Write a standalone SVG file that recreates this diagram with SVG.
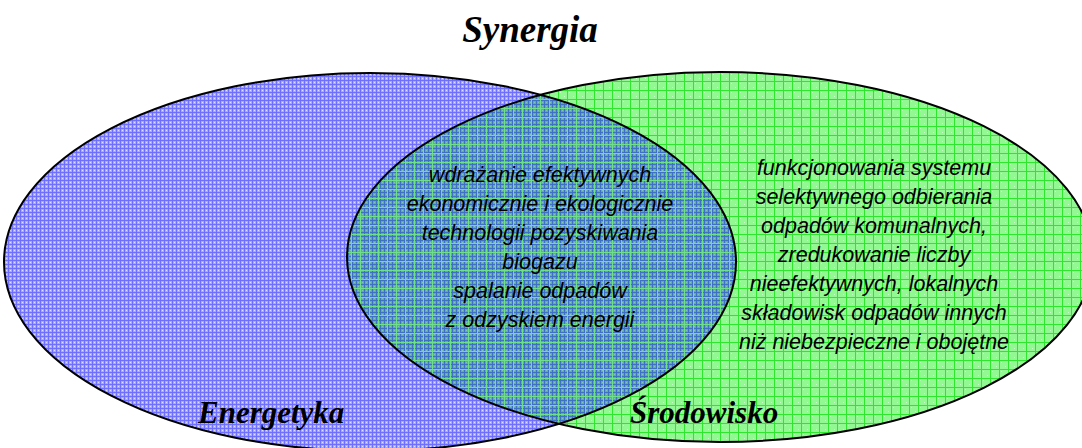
<svg xmlns="http://www.w3.org/2000/svg" width="1082" height="448" viewBox="0 0 1082 448">
<style>
.title{font-family:"Liberation Serif","Times New Roman",serif;font-weight:bold;font-style:italic;fill:#000}
.body{font-family:"Liberation Sans",Arial,sans-serif;font-style:italic;font-size:21.5px;fill:#000;text-anchor:middle}
.outline{fill:none;stroke:#000;stroke-width:2}
</style>
<defs>
<pattern id="blue" width="4" height="4" patternUnits="userSpaceOnUse">
<rect width="4" height="4" fill="#a8a8ff"/>
<rect x="0" y="0" width="1" height="4" fill="#6e6eff"/>
<rect x="0" y="0" width="4" height="1" fill="#6e6eff"/>
<rect x="2" y="2" width="1" height="1" fill="#e0e0ff"/>
</pattern>
<pattern id="green" width="9" height="9" patternUnits="userSpaceOnUse">
<rect width="9" height="9" fill="#92f892"/>
<rect x="2" y="2" width="1" height="1" fill="#c8ffc8"/>
<rect x="6" y="6" width="1" height="1" fill="#c8ffc8"/>
<rect x="0" y="0" width="1" height="9" fill="#2ee62e"/>
<rect x="0" y="0" width="9" height="1" fill="#2ee62e"/>
</pattern>
<pattern id="teal" width="4" height="4" patternUnits="userSpaceOnUse">
<rect width="4" height="4" fill="#62ae9c"/>
<rect x="0" y="0" width="1" height="4" fill="#3e70c6"/>
<rect x="0" y="0" width="4" height="1" fill="#3e70c6"/>
<rect x="2" y="2" width="1" height="1" fill="#80c8b0"/>
</pattern>
<pattern id="greengrid" width="9" height="9" patternUnits="userSpaceOnUse">
<rect x="0" y="0" width="1" height="9" fill="#6ee08a"/>
<rect x="0" y="0" width="9" height="1" fill="#6ee08a"/>
</pattern>
<clipPath id="leftClip"><ellipse cx="370" cy="262" rx="366" ry="189"/></clipPath>
</defs>

<g id="energetyka">
<ellipse cx="370" cy="262" rx="366" ry="189" fill="url(#blue)"/>
</g>
<g id="srodowisko">
<ellipse cx="720" cy="257" rx="373" ry="185" fill="url(#green)"/>
</g>
<g id="synergia-overlap">
<g clip-path="url(#leftClip)">
<ellipse cx="720" cy="257" rx="373" ry="185" fill="url(#teal)"/>
<ellipse cx="720" cy="257" rx="373" ry="185" fill="url(#greengrid)"/>
</g>
</g>
<g id="outlines">
<ellipse class="outline" cx="370" cy="262" rx="366" ry="189"/>
<ellipse class="outline" cx="720" cy="257" rx="373" ry="185"/>
</g>

<g id="title">
<text class="title" x="530" y="42" font-size="37" text-anchor="middle">Synergia</text>
</g>
<g id="label-energetyka">
<text class="title" x="198" y="423" font-size="31">Energetyka</text>
</g>
<g id="label-srodowisko">
<text class="title" x="630" y="423" font-size="31">Środowisko</text>
</g>
<g id="text-overlap">
<text class="body" x="540" y="182">wdrażanie efektywnych</text>
<text class="body" x="540" y="211">ekonomicznie i ekologicznie</text>
<text class="body" x="540" y="240">technologii pozyskiwania</text>
<text class="body" x="540" y="269">biogazu</text>
<text class="body" x="540" y="298">spalanie odpadów</text>
<text class="body" x="540" y="327">z odzyskiem energii</text>
</g>
<g id="text-srodowisko">
<text class="body" x="874" y="175">funkcjonowania systemu</text>
<text class="body" x="874" y="204">selektywnego odbierania</text>
<text class="body" x="874" y="233">odpadów komunalnych,</text>
<text class="body" x="874" y="262">zredukowanie liczby</text>
<text class="body" x="874" y="291">nieefektywnych, lokalnych</text>
<text class="body" x="874" y="320">składowisk odpadów innych</text>
<text class="body" x="874" y="349">niż niebezpieczne i obojętne</text>
</g>
</svg>
